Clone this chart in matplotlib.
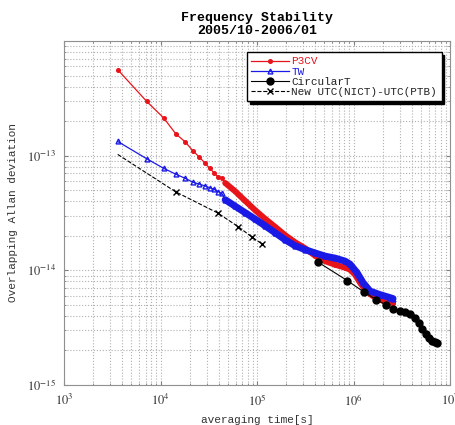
import matplotlib
matplotlib.use('Agg')
import matplotlib.pyplot as plt
import matplotlib.ticker as mticker
import numpy as np

plt.rcParams['font.family'] = ['Liberation Mono', 'DejaVu Sans Mono']
plt.rcParams['mathtext.fontset'] = 'stix'

# P3CV (red)
p3cv_tau = [3600, 7200, 10800, 14400, 18000, 21600, 25200, 28800, 32400, 36000,
            39600, 43200, 46800, 59200, 75100, 95400, 121000, 153700, 195100,
            247600, 314400, 399000, 506600, 643200, 816400, 919900, 1036000,
            1168000, 1316000, 1483000, 1592000, 1882000, 2022000, 2389000, 2567000]
p3cv_adev = [5.62e-13, 2.97e-13, 2.13e-13, 1.55e-13, 1.32e-13, 1.105e-13, 9.74e-14,
             8.63e-14, 7.75e-14, 7.07e-14, 6.52e-14, 6.39e-14, 5.78e-14, 4.90e-14,
             4.05e-14, 3.35e-14, 2.82e-14, 2.40e-14, 2.03e-14, 1.76e-14, 1.56e-14,
             1.343e-14, 1.203e-14, 1.121e-14, 1.056e-14, 1.014e-14, 9.17e-15,
             7.81e-15, 6.79e-15, 6.2e-15, 5.96e-15, 5.55e-15, 5.45e-15, 5.25e-15, 5.18e-15]

# TW (blue)
tw_tau = [3600, 7200, 10800, 14400, 18000, 21600, 25200, 28800, 32400, 36000,
          39600, 43200, 46800, 59200, 75100, 95400, 121000, 153700, 195100,
          247600, 314400, 399000, 506600, 643200, 816400, 919900, 1087000,
          1254000, 1483000, 1882000, 2389000, 2567000]
tw_adev = [1.33e-13, 9.4e-14, 7.75e-14, 6.9e-14, 6.35e-14, 5.88e-14, 5.65e-14,
           5.45e-14, 5.25e-14, 5.08e-14, 4.85e-14, 4.68e-14, 4.13e-14, 3.63e-14,
           3.19e-14, 2.80e-14, 2.45e-14, 2.13e-14, 1.85e-14, 1.64e-14, 1.515e-14,
           1.418e-14, 1.33e-14, 1.278e-14, 1.203e-14, 1.132e-14, 9.55e-15,
           7.81e-15, 6.59e-15, 6.14e-15, 5.78e-15, 5.67e-15]

# CircularT (black, 5-day steps)
ct_tau = [432000, 864000, 1296000, 1728000, 2160000, 2592000, 3024000, 3456000,
          3888000, 4320000, 4752000, 5184000, 5616000, 6048000, 6480000, 6912000,
          7344000]
ct_adev = [1.175e-14, 8.13e-15, 6.43e-15, 5.55e-15, 4.99e-15, 4.64e-15, 4.45e-15,
           4.32e-15, 4.15e-15, 3.83e-15, 3.46e-15, 3.10e-15, 2.81e-15, 2.56e-15,
           2.44e-15, 2.36e-15, 2.32e-15]

# New UTC(NICT)-UTC(PTB) (black dashed)
new_tau = [3600, 14400, 39000, 64000, 88700, 113500]
new_adev = [1.026e-13, 4.83e-14, 3.17e-14, 2.40e-14, 1.95e-14, 1.69e-14]

y_ticks = [1e-15, 1e-14, 1e-13]
dense_from = 46800

fig = plt.figure(figsize=(4.56, 4.25), dpi=100)
ax = fig.add_axes([0.1404, 0.0941, 0.8465, 0.8094])

red = '#e8141a'
blue = '#1a1ae6'

l1, = ax.plot(p3cv_tau, p3cv_adev, '-', color=red, lw=0.9, marker='o', ms=2.6,
              label='P3CV', zorder=3)
m = np.array(p3cv_tau) >= dense_from
ax.plot(np.array(p3cv_tau)[m], np.array(p3cv_adev)[m], '-', color=red, lw=4.3,
        solid_capstyle='round', zorder=3)

l2, = ax.plot(tw_tau, tw_adev, '-', color=blue, lw=0.9, marker='^', ms=3.5,
              mfc='none', mew=1.0, label='TW', zorder=4)
m = np.array(tw_tau) >= dense_from
ax.plot(np.array(tw_tau)[m], np.array(tw_adev)[m], '-', color=blue, lw=5,
        solid_capstyle='round', zorder=4)

l3, = ax.plot(ct_tau, ct_adev, '-', color='black', lw=0.8, marker='o', ms=5,
              label='CircularT', zorder=5)
l4, = ax.plot(new_tau, new_adev, '--', color='black', lw=0.8, marker='x', ms=5,
              mew=1.0, markevery=[1, 2, 3, 4, 5], label='New UTC(NICT)-UTC(PTB)',
              zorder=5)

ax.set_xscale('log')
ax.set_yscale('log')
ax.set_xlim(1e3, 1e7)
ax.set_ylim(1e-15, 1e-12)

fmt = mticker.FuncFormatter(lambda v, p: r'$10^{%d}$' % round(np.log10(v)))
ax.xaxis.set_major_formatter(fmt)
ax.yaxis.set_major_formatter(fmt)
ax.xaxis.set_major_locator(mticker.LogLocator(base=10, numticks=10))
ax.set_yticks(y_ticks)
ax.xaxis.set_minor_locator(mticker.LogLocator(base=10, subs=np.arange(2, 10), numticks=20))
ax.yaxis.set_minor_locator(mticker.LogLocator(base=10, subs=np.arange(2, 10), numticks=20))
ax.xaxis.set_minor_formatter(mticker.NullFormatter())
ax.yaxis.set_minor_formatter(mticker.NullFormatter())
# keep the gridline at 1e-12 without a label
ax.axhline(1e-12, color='#b0b0b0', ls=':', lw=0.8)

ax.grid(True, which='both', color='#b0b0b0', ls=':', lw=0.8)
ax.tick_params(which='both', direction='in', top=True, right=True, color='#808080',
               labelsize=9, labelcolor='#333333')
ax.tick_params(which='major', length=3, pad=6)
ax.tick_params(which='minor', length=1.5)
for s in ax.spines.values():
    s.set_color('#909090')

ax.set_xlabel('averaging time[s]', fontsize=8, color='#333333', labelpad=4)
ax.set_ylabel('Overlapping Allan deviation', fontsize=8, color='#333333', labelpad=6)
ax.set_title('Frequency Stability\n2005/10-2006/01', fontsize=9.5, fontweight='bold',
             pad=5, linespacing=1.1)

leg = ax.legend(handles=[l1, l2, l3, l4], loc='upper left',
                bbox_to_anchor=(0.474, 0.968), fontsize=7.9, frameon=True,
                fancybox=False, edgecolor='black', framealpha=1,
                shadow={'color': 'black', 'alpha': 1}, handlelength=3.4,
                labelspacing=0.02, borderpad=0.4, handletextpad=0.25,
                borderaxespad=0)
leg.get_frame().set_linewidth(1.0)
for txt, c in zip(leg.get_texts(), [red, blue, '#222222', '#222222']):
    txt.set_color(c)

fig.savefig('out.png', dpi=100)
